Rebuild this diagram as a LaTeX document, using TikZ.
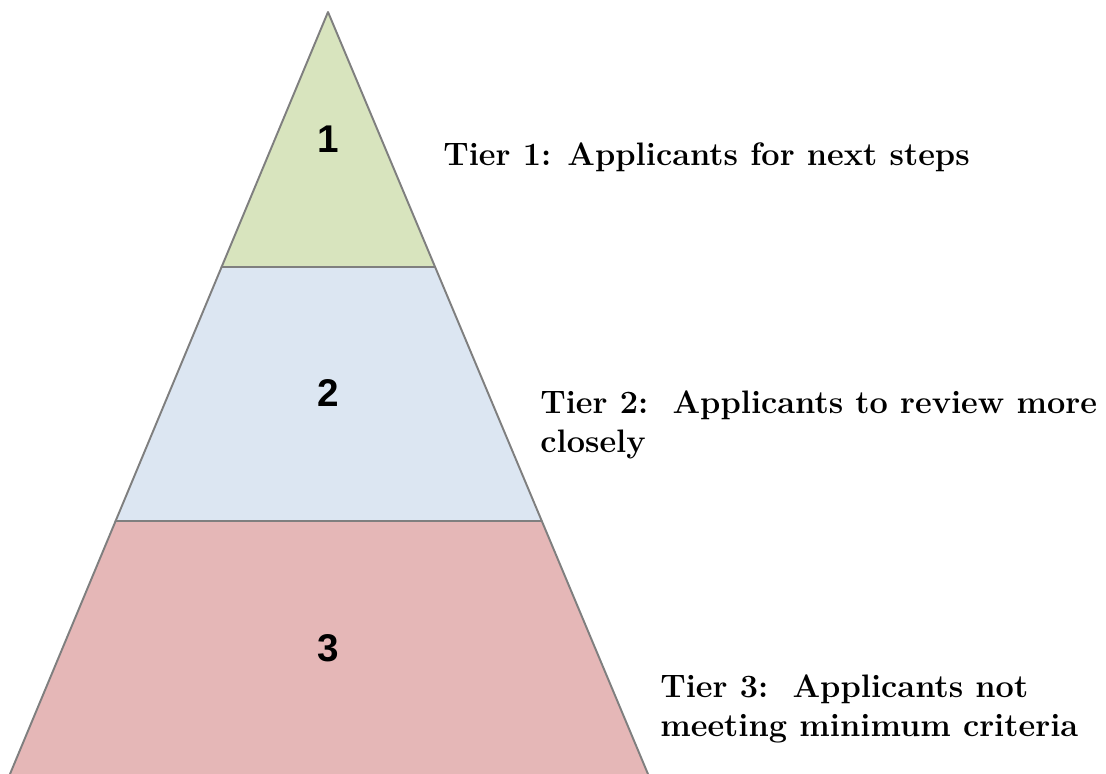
\documentclass[tikz,border=0pt]{standalone}
\usepackage{fontspec}
\newfontfamily\numfont{Liberation Sans}
\definecolor{tiergreen}{HTML}{D8E4BE}
\definecolor{tierblue}{HTML}{DCE6F2}
\definecolor{tierred}{HTML}{E5B7B7}
\definecolor{edgegray}{HTML}{7F7F7F}
\begin{document}
\begin{tikzpicture}[x=0.02cm, y=-0.02cm]
        \tikzset{
            tier/.style={
                    draw=edgegray,
                    line width=1.1pt,
                    line join=round,
                },
            number/.style={font=\numfont\fontsize{22}{22}\selectfont\bfseries},
            caption/.style={
                    anchor=west,
                    align=left,
                    inner sep=0pt,
                    font=\fontsize{18.5}{22.6}\selectfont\bfseries,
                },
        }
        \useasboundingbox (0, 0) rectangle (1106, 774);
        \clip (0, 0) rectangle (1106, 774);
        % \draw[step=100] (0, 0) grid (1106, 774);
        \coordinate (apex) at (328, 12);
        \coordinate (l1) at (221.6, 267);
        \coordinate (r1) at (435.1, 267);
        \coordinate (l2) at (115.6, 521);
        \coordinate (r2) at (541.8, 521);
        \coordinate (l3) at (7.5, 780);
        \coordinate (r3) at (650.5, 780);
        \draw[tier, fill=tiergreen] (apex) -- (r1) -- (l1) -- cycle;
        \draw[tier, fill=tierblue] (l1) -- (r1) -- (r2) -- (l2) -- cycle;
        \draw[tier, fill=tierred] (l2) -- (r2) -- (r3) -- (l3) -- cycle;
        \node[number] (one) at (328, 139) {1};
        \node[number] (two) at (328, 393) {2};
        \node[number] (three) at (328, 648) {3};
        \node[caption] (capone) at (443, 157) {Tier 1: Applicants for next steps};
        \node[caption] (captwo) at (540, 425) {Tier 2:\ \ Applicants to review more\\closely};
        \node[caption] (capthree) at (660, 709) {Tier 3:\ \ Applicants not\\meeting minimum criteria};
    \end{tikzpicture}
\end{document}
